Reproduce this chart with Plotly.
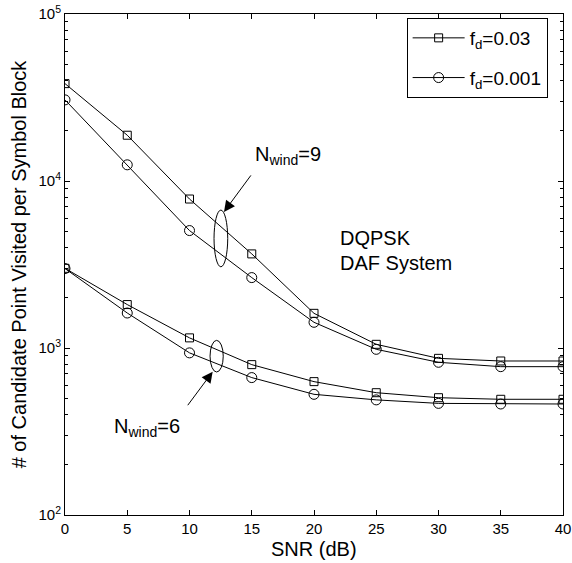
import numpy as np
import plotly.graph_objects as go

snr = [0, 5, 10, 15, 20, 25, 30, 35, 40]
n9_fd003 = [38300, 18800, 7800, 3660, 1613, 1052, 867, 836, 836]
n9_fd0001 = [30600, 12500, 5050, 2640, 1425, 982, 821, 773, 773]
n6_fd003 = [3000, 1820, 1150, 795, 629, 540, 504, 493, 493]
n6_fd0001 = [2990, 1620, 935, 665, 528, 489, 466, 462, 462]

ytick_vals = [1e2, 1e3, 1e4, 1e5]
ytick_text = ["10<sup>2</sup>", "10<sup>3</sup>", "10<sup>4</sup>", "10<sup>5</sup>"]
xtick_vals = [0, 5, 10, 15, 20, 25, 30, 35, 40]

FONT = "Liberation Sans, Arial, Helvetica, sans-serif"

fig = go.Figure()
line = dict(color="black", width=1)
sq = dict(symbol="square-open", size=8, color="black", line=dict(width=1, color="black"))
ci = dict(symbol="circle-open", size=10, color="black", line=dict(width=1, color="black"))

fig.add_trace(go.Scatter(x=snr, y=n9_fd003, mode="lines+markers", line=line, marker=sq,
                         name="f<sub>d</sub>=0.03", legendgroup="a"))
fig.add_trace(go.Scatter(x=snr, y=n9_fd0001, mode="lines+markers", line=line, marker=ci,
                         name="f<sub>d</sub>=0.001", legendgroup="b"))
fig.add_trace(go.Scatter(x=snr, y=n6_fd003, mode="lines+markers", line=line, marker=sq,
                         name="f<sub>d</sub>=0.03", showlegend=False))
fig.add_trace(go.Scatter(x=snr, y=n6_fd0001, mode="lines+markers", line=line, marker=ci,
                         name="f<sub>d</sub>=0.001", showlegend=False))

minor_vals = [m * 10 ** e for e in (2, 3, 4) for m in range(2, 10)]

shapes = [
    dict(type="circle", xref="x", yref="y domain", x0=11.97, x1=13.07,
         y0=0.552 - 0.0566, y1=0.552 + 0.0566, line=dict(color="black", width=1)),
    dict(type="circle", xref="x", yref="y domain", x0=11.65, x1=12.71,
         y0=0.317 - 0.0316, y1=0.317 + 0.0316, line=dict(color="black", width=1)),
]

afont = dict(size=20, family=FONT, color="black")
annotations = [
    dict(x=12.77, y=0.605, xref="x", yref="y domain", ax=28, ay=-38, showarrow=True,
         arrowhead=2, arrowsize=2.2, arrowwidth=1, arrowcolor="black", text="", standoff=0),
    dict(x=11.86, y=0.286, xref="x", yref="y domain", ax=-26, ay=35, showarrow=True,
         arrowhead=2, arrowsize=2.2, arrowwidth=1, arrowcolor="black", text="", standoff=0),
    dict(x=15.1, y=0.717, xref="x", yref="y domain", showarrow=False, xanchor="left",
         yanchor="middle", text="N<sub>wind</sub>=9", font=afont),
    dict(x=3.75, y=0.174, xref="x", yref="y domain", showarrow=False, xanchor="left",
         yanchor="middle", text="N<sub>wind</sub>=6", font=afont),
    dict(x=21.93, y=0.553, xref="x", yref="y domain", showarrow=False, xanchor="left",
         text="DQPSK", font=afont),
    dict(x=21.93, y=0.503, xref="x", yref="y domain", showarrow=False, xanchor="left",
         text="DAF System", font=afont),
    dict(x=0.5, y=-0.094, xref="x domain", yref="y domain", showarrow=False,
         xanchor="center", yanchor="bottom", text="SNR (dB)",
         font=dict(size=20, family=FONT, color="black")),
]

fig.update_layout(
    width=572, height=563,
    margin=dict(l=65, r=9, t=14, b=48),
    paper_bgcolor="white", plot_bgcolor="white",
    font=dict(family=FONT, size=15, color="black"),
    shapes=shapes, annotations=annotations,
    legend=dict(x=0.686, y=0.992, xanchor="left", yanchor="top", bgcolor="white",
                bordercolor="black", borderwidth=1, font=dict(size=19, family=FONT),
                tracegroupgap=12, itemwidth=52),
    xaxis=dict(range=[0, 40], tickmode="array", tickvals=xtick_vals,
               ticks="inside", ticklen=5, tickcolor="black", showline=True,
               linecolor="black", linewidth=1, mirror="ticks", showgrid=False,
               zeroline=False, automargin=False, ticklabeloverflow="allow",
               tickfont=dict(size=15)),
    yaxis=dict(type="log", range=[2, 5], tickmode="array", tickvals=ytick_vals,
               ticktext=ytick_text, ticks="inside", ticklen=5, tickcolor="black",
               showline=True, linecolor="black", linewidth=1, mirror="ticks",
               showgrid=False, zeroline=False, automargin=False,
               ticklabeloverflow="allow",
               minor=dict(tickmode="array", tickvals=minor_vals, ticks="inside",
                          ticklen=3, tickcolor="black", showgrid=False),
               title=dict(text="# of Candidate Point Visited per Symbol Block",
                          font=dict(size=20), standoff=6),
               tickfont=dict(size=15)),
)

# remove the browser's default 8px body margin so the figure fills the window
fig.write_html("out.html", config={"displayModeBar": False},
               post_script="document.body.style.margin='0';")
